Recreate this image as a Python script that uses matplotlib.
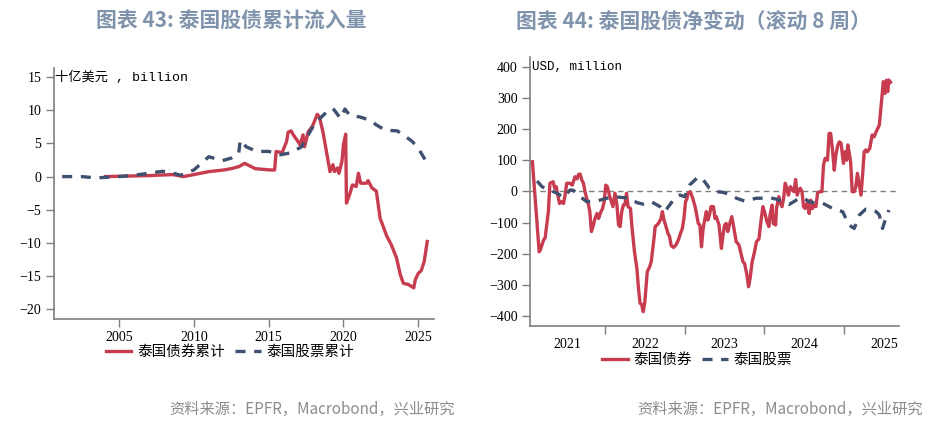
import matplotlib
matplotlib.use("Agg")
import matplotlib.pyplot as plt
from matplotlib.ticker import FixedLocator, NullFormatter

plt.rcParams["font.family"] = ["Liberation Serif", "Noto Sans CJK SC"]

RED = "#C83C50"
NAVY = "#3F5070"
TITLE_C = "#8093AD"
SRC_C = "#8C8C8C"
CJK = ["Noto Sans CJK SC", "DejaVu Sans"]

# ---- 图表 43: cumulative flows (billion USD) ----
bond_cum_x = [2004.1, 2005.0, 2006.0, 2007.0, 2008.0, 2008.6, 2009.3, 2010.0, 2011.0, 2012.0,
              2012.5, 2013.0, 2013.4, 2014.1, 2015.1, 2015.4, 2015.5, 2015.9, 2016.2, 2016.3,
              2016.5, 2016.65, 2016.9, 2017.1, 2017.3, 2017.4, 2017.65, 2017.9, 2018.0, 2018.25,
              2018.4, 2018.65, 2018.9, 2019.1, 2019.3, 2019.4, 2019.6, 2019.7, 2019.9, 2020.0,
              2020.15, 2020.2, 2020.4, 2020.6, 2020.85, 2021.0, 2021.15, 2021.55, 2021.65, 2021.9,
              2022.2, 2022.45, 2022.9, 2023.2, 2023.55, 2023.8, 2024.0, 2024.35, 2024.7, 2024.8,
              2025.0, 2025.2, 2025.4, 2025.6]
bond_cum_y = [0.0, 0.05, 0.1, 0.15, 0.25, 0.3, 0.0, 0.3, 0.75, 1.0,
              1.2, 1.5, 2.0, 1.2, 1.0, 1.0, 3.8, 3.6, 5.3, 6.7,
              6.9, 6.3, 5.5, 4.8, 6.3, 4.5, 6.8, 7.5, 8.0, 9.4,
              9.0, 6.5, 3.3, 0.75, 1.8, 0.75, 1.3, 0.5, 2.3, 4.8,
              6.4, -4.0, -2.8, -1.25, -1.5, 0.5, -1.0, -1.0, -0.6, -1.7,
              -2.2, -6.3, -9.0, -10.3, -12.3, -14.8, -16.1, -16.3, -16.8, -15.6,
              -14.6, -14.2, -12.8, -9.8]

eq_cum_x = [2001.2, 2002.5, 2003.5, 2004.2, 2005.0, 2006.0, 2007.0, 2007.9, 2008.5, 2009.1,
            2010.0, 2011.0, 2011.9, 2012.5, 2013.0, 2013.1, 2013.5, 2014.2, 2015.0, 2015.8,
            2016.5, 2017.2, 2017.9, 2018.3, 2018.9, 2019.3, 2019.8, 2020.1, 2020.4, 2021.1,
            2021.8, 2022.2, 2022.8, 2023.6, 2024.0, 2024.6, 2025.0, 2025.6]
eq_cum_y = [0.0, 0.0, -0.2, -0.1, 0.0, 0.2, 0.5, 0.8, 0.6, 0.2,
            1.0, 3.0, 2.4, 2.8, 3.5, 5.5, 4.5, 3.8, 3.8, 3.3,
            3.6, 4.5, 7.3, 8.5, 9.8, 10.3, 8.8, 10.2, 9.3, 9.0,
            8.5, 7.8, 7.0, 6.9, 6.3, 5.3, 4.3, 2.0]

# ---- 图表 44: rolling 8-week net change (million USD) ----
bond_net_x = [2021.09, 2021.13, 2021.175, 2021.19, 2021.23, 2021.25, 2021.29, 2021.31, 2021.35, 2021.37,
              2021.39, 2021.40, 2021.43, 2021.46, 2021.48, 2021.50, 2021.52, 2021.56, 2021.59, 2021.625,
              2021.65, 2021.67, 2021.69, 2021.71, 2021.73, 2021.75, 2021.77, 2021.79, 2021.81, 2021.83,
              2021.85, 2021.875, 2021.90, 2021.92, 2021.95, 2021.97, 2021.99, 2022.01, 2022.03, 2022.06,
              2022.08, 2022.10, 2022.125, 2022.15, 2022.17, 2022.19, 2022.21, 2022.23, 2022.25, 2022.27,
              2022.29, 2022.32, 2022.34, 2022.37, 2022.40, 2022.42, 2022.44, 2022.46, 2022.48, 2022.50,
              2022.53, 2022.56, 2022.58, 2022.61, 2022.63, 2022.67, 2022.70, 2022.72, 2022.74, 2022.76,
              2022.79, 2022.81, 2022.83, 2022.86, 2022.89, 2022.92, 2022.94, 2022.97, 2022.99, 2023.01,
              2023.03, 2023.04, 2023.07, 2023.10, 2023.13, 2023.15, 2023.17, 2023.19, 2023.21, 2023.23,
              2023.25, 2023.27, 2023.29, 2023.31, 2023.33, 2023.36, 2023.38, 2023.395, 2023.43, 2023.46,
              2023.48, 2023.50, 2023.52, 2023.54, 2023.56, 2023.59, 2023.61, 2023.645, 2023.68, 2023.71,
              2023.73, 2023.75, 2023.78, 2023.80, 2023.82, 2023.845, 2023.875, 2023.90, 2023.93, 2023.96,
              2023.98, 2024.0, 2024.03, 2024.055, 2024.07, 2024.095, 2024.11, 2024.14, 2024.15, 2024.18,
              2024.19, 2024.22, 2024.24, 2024.26, 2024.28, 2024.30, 2024.325, 2024.35, 2024.37, 2024.39,
              2024.41, 2024.43, 2024.45, 2024.47, 2024.49, 2024.51, 2024.54, 2024.56, 2024.58, 2024.60,
              2024.625, 2024.645, 2024.665, 2024.69, 2024.72, 2024.74, 2024.76, 2024.79, 2024.81, 2024.83,
              2024.855, 2024.875, 2024.895, 2024.92, 2024.94, 2024.96, 2024.99, 2025.01, 2025.03, 2025.045,
              2025.06, 2025.08, 2025.10, 2025.125, 2025.145, 2025.165, 2025.19, 2025.21, 2025.23, 2025.25,
              2025.27, 2025.29, 2025.32, 2025.35, 2025.375, 2025.40, 2025.44, 2025.47, 2025.49, 2025.51,
              2025.53, 2025.545, 2025.56, 2025.58]
bond_net_y = [95, -40, -194, -188, -156, -149, -65, 26, 31, 10,
              15, -1, -39, -33, -39, -12, 26, 26, 20, 47,
              40, 55, 55, 36, 26, -1, -22, -39, -65, -129,
              -113, -87, -71, -87, -65, -55, -33, 20, 15, -17,
              -33, -49, -6, -44, -108, -113, -65, -44, -42, -6,
              -49, -55, -119, -194, -247, -311, -359, -363, -386, -354,
              -258, -242, -226, -161, -113, -103, -89, -65, -92, -108,
              -135, -145, -174, -180, -172, -156, -140, -119, -87, -33,
              -22, -6, -1, -22, -49, -76, -103, -108, -178, -120,
              -92, -65, -92, -76, -49, -49, -87, -81, -108, -183,
              -140, -108, -103, -129, -108, -81, -108, -161, -172, -204,
              -226, -231, -268, -306, -279, -226, -194, -161, -153, -87,
              -49, -65, -97, -113, -76, -44, -103, -108, -55, -17,
              -33, -49, -22, 26, 10, -12, 15, 4, -1, 38,
              -12, 4, 10, -1, -49, -55, -33, -71, -28, -55,
              -44, -49, -6, -1, -1, 84, 106, 100, 186, 186,
              127, 68, 117, 149, 159, 154, 90, 127, 100, 149,
              127, 95, -1, -1, 15, 58, 20, -12, 52, 127,
              133, 127, 138, 181, 175, 191, 213, 298, 352, 314,
              357, 320, 357, 350]

eq_net_x = [2021.15, 2021.21, 2021.31, 2021.40, 2021.48, 2021.56, 2021.60, 2021.69, 2021.77, 2021.90,
            2021.98, 2022.10, 2022.23, 2022.31, 2022.40, 2022.48, 2022.58, 2022.69, 2022.75, 2022.81,
            2022.875, 2022.94, 2023.0, 2023.06, 2023.15, 2023.19, 2023.25, 2023.31, 2023.40, 2023.48,
            2023.56, 2023.65, 2023.75, 2023.90, 2023.98, 2024.06, 2024.15, 2024.23, 2024.31, 2024.40,
            2024.48, 2024.56, 2024.65, 2024.73, 2024.81, 2024.90, 2024.98, 2025.06, 2025.125, 2025.19,
            2025.27, 2025.33, 2025.40, 2025.44, 2025.48, 2025.52, 2025.56]
eq_net_y = [33, 15, 4, -6, -20, 4, 4, -17, -33, -31,
            -25, -17, -20, -22, -36, -41, -33, -49, -65, -44,
            -22, -12, -17, 20, 42, 47, 31, 10, -1, -3,
            -10, -22, -31, -22, -22, -20, -25, -33, -42, -28,
            -20, -33, -38, -38, -49, -60, -65, -108, -119, -76,
            -57, -60, -65, -76, -119, -87, -60]

fig = plt.figure(figsize=(9.5, 4.23), dpi=100)
ax1 = fig.add_axes([0.0568, 0.2459, 0.40, 0.5934])
ax2 = fig.add_axes([0.5579, 0.2300, 0.3887, 0.6352])

dash = (0, (3.0, 2.6))
for ax in (ax1, ax2):
    for s in ("top", "right"):
        ax.spines[s].set_visible(False)
    for s in ("left", "bottom"):
        ax.spines[s].set_color("#7f7f7f")
        ax.spines[s].set_linewidth(1.2)
    ax.tick_params(axis="both", which="major", direction="out", length=6, width=1.0,
                   color="#7f7f7f", labelsize=10, pad=3)

# left panel
l1, = ax1.plot(bond_cum_x, bond_cum_y, color=RED, lw=2.4, label="泰国债券累计")
l2, = ax1.plot(eq_cum_x, eq_cum_y, color=NAVY, lw=2.4, linestyle=dash, label="泰国股票累计")
ax1.set_xlim(2000.65, 2026.05)
ax1.set_ylim(-21.5, 16.4)
ax1.set_xticks([2005, 2010, 2015, 2020, 2025])
ax1.set_yticks([15, 10, 5, 0, -5, -10, -15, -20])
ax1.text(2000.75, 15, "十亿美元 , billion", fontsize=9.5, va="center", ha="left",
         family=["Liberation Mono", "Noto Sans CJK SC"])

# right panel
r1, = ax2.plot(bond_net_x, bond_net_y, color=RED, lw=2.4, label="泰国债券")
r2, = ax2.plot(eq_net_x, eq_net_y, color=NAVY, lw=2.4, linestyle=dash, label="泰国股票")
ax2.axhline(0, color="#808080", lw=1.0, linestyle=(0, (4, 3)), zorder=0)
ax2.set_xlim(2021.06, 2025.69)
ax2.set_ylim(-431, 431)
ax2.set_yticks([400, 300, 200, 100, 0, -100, -200, -300, -400])
ax2.xaxis.set_major_locator(FixedLocator([2022, 2023, 2024, 2025]))
ax2.xaxis.set_major_formatter(NullFormatter())
ax2.xaxis.set_minor_locator(FixedLocator([2021.53, 2022.5, 2023.5, 2024.5, 2025.5]))
ax2.set_xticklabels(["2021", "2022", "2023", "2024", "2025"], minor=True)
ax2.tick_params(axis="x", which="minor", length=0, labelsize=10, pad=9)
ax2.text(2021.08, 400, "USD, million", fontsize=9, va="center", ha="left",
         family=["Liberation Mono", "DejaVu Sans"])

# titles, legends, sources
fig.text(0.243, 0.950, "图表 43: 泰国股债累计流入量", fontsize=15, fontweight="bold",
         color=TITLE_C, ha="center", va="center", family=CJK)
fig.text(0.7305, 0.950, "图表 44: 泰国股债净变动（滚动 8 周）", fontsize=15, fontweight="bold",
         color=TITLE_C, ha="center", va="center", family=CJK)

leg_kw = dict(ncol=2, frameon=False, handlelength=1.75, handletextpad=0.4,
              columnspacing=0.7, prop={"family": CJK, "size": 10.5}, loc="center")
fig.legend(handles=[l1, l2], bbox_to_anchor=(0.242, 0.168), **leg_kw)
fig.legend(handles=[r1, r2], bbox_to_anchor=(0.734, 0.149), **leg_kw)

fig.text(0.479, 0.033, "资料来源：EPFR，Macrobond，兴业研究", fontsize=11, color=SRC_C,
         ha="right", va="center", family=CJK)
fig.text(0.9716, 0.033, "资料来源：EPFR，Macrobond，兴业研究", fontsize=11, color=SRC_C,
         ha="right", va="center", family=CJK)

fig.savefig("out.png", dpi=100)
